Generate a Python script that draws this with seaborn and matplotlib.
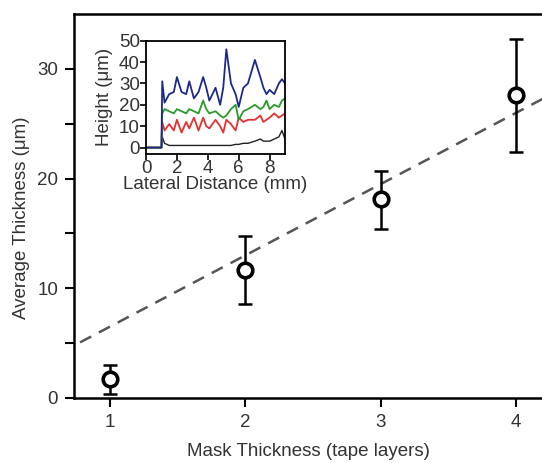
import numpy as np
import pandas as pd
import seaborn as sns
import matplotlib.pyplot as plt

# main data: average thickness vs mask thickness
layers = [1, 2, 3, 4]
thickness = [1.7, 11.7, 18.1, 27.6]
err_low = [1.35, 3.1, 2.7, 5.2]
err_high = [1.35, 3.05, 2.6, 5.1]
fit_slope = 6.5
fit_x = [0.78, 4.25]

# inset: height profiles (mm, um)
prof_x = [0.0, 1.0, 1.05, 1.2, 1.5, 1.8, 2.0, 2.3, 2.6, 2.8, 3.1, 3.4, 3.7, 3.9,
          4.1, 4.5, 4.8, 5.0, 5.2, 5.5, 5.8, 6.0, 6.3, 6.6, 7.05, 7.4, 7.6, 7.8,
          8.0, 8.3, 8.6, 8.8, 9.0]
blue = [0, 0, 31, 21, 25, 26, 33, 26, 25, 31, 23, 26, 33, 28,
        22, 28, 20, 28, 46, 30, 25, 19, 28, 30, 41, 33, 28, 25,
        27, 25, 30, 32, 30]
green = [0, 0, 16, 18, 17, 16, 18, 17, 16, 18, 17, 16, 22, 18,
         16, 17, 15, 14, 15, 18, 20, 13, 17, 18, 20, 18, 19, 22,
         18, 20, 19, 22, 23]
red = [0, 0, 12, 8, 11, 8, 13, 7, 12, 9, 14, 8, 14, 10,
       9, 13, 10, 7, 13, 11, 8, 14, 12, 13, 13, 15, 12, 13,
       14, 16, 14, 15, 16]
black = [0, 0, 5, 2, 1, 1, 1, 1, 1, 1, 1, 1, 1, 1,
         1, 1, 1, 1, 1, 1, 1.5, 1.5, 2, 2, 3, 4, 3, 3,
         3, 4, 5, 8, 4]

sns.set_theme(style="ticks")
plt.rcParams["font.family"] = ["Liberation Sans", "DejaVu Sans"]
plt.rcParams["text.color"] = "#333333"
plt.rcParams["axes.labelcolor"] = "#333333"
plt.rcParams["xtick.color"] = "black"
plt.rcParams["ytick.color"] = "black"
plt.rcParams["xtick.labelcolor"] = "#333333"
plt.rcParams["ytick.labelcolor"] = "#333333"

fs = 13.5
fig = plt.figure(figsize=(5.42, 4.63), dpi=100)
ax = fig.add_axes([0.1365, 0.1404, 0.8635, 0.8294])

df = pd.DataFrame({"layers": layers, "thickness": thickness})

# dashed fit line
fx = np.array(fit_x)
sns.lineplot(x=fx, y=fit_slope * fx, ax=ax, color="#555555", lw=1.8,
             linestyle=(0, (5, 3.5)), zorder=1)

ax.errorbar(layers, thickness, yerr=[err_low, err_high], fmt="none",
            ecolor="black", elinewidth=1.8, capsize=5, capthick=1.8, zorder=2)
sns.scatterplot(data=df, x="layers", y="thickness", ax=ax, s=110,
                facecolor="white", edgecolor="black", linewidth=2.6, zorder=3)

ax.set_xlim(0.735, 4.19)
ax.set_ylim(0, 35)
ax.set_xticks(layers)
ax.set_yticks([0, 10, 20, 30])
ax.set_yticks([5, 15, 25], minor=True)
ax.tick_params(axis="both", which="both", direction="out", length=6.5, width=1.5,
               labelsize=fs, pad=5)
for s in ["left", "bottom", "top"]:
    ax.spines[s].set_linewidth(1.8)
    ax.spines[s].set_color("black")
ax.spines["right"].set_visible(False)
ax.set_xlabel("Mask Thickness (tape layers)", fontsize=fs, labelpad=9)
ax.set_ylabel("Average Thickness (μm)", fontsize=fs)
ax.yaxis.set_label_coords(-0.094, 0.47)

# inset
ins = fig.add_axes([0.2694, 0.6674, 0.2565, 0.2447])
pdf = pd.DataFrame({"x": prof_x, "blue": blue, "green": green,
                    "red": red, "black": black})
for col, c, w in [("black", "#222222", 1.0), ("red", "#e53030", 1.3),
                  ("green", "#2a9a2a", 1.3), ("blue", "#1c2a8c", 1.3)]:
    sns.lineplot(data=pdf, x="x", y=col, ax=ins, color=c, lw=w)
ins.set_xlim(0, 9)
ins.set_ylim(-3, 50)
ins.set_xticks([0, 2, 4, 6, 8])
ins.set_yticks([0, 10, 20, 30, 40, 50])
ins.tick_params(axis="both", direction="out", length=4, width=1.2,
                labelsize=fs, pad=0.5)
for s in ins.spines.values():
    s.set_linewidth(1.3)
    s.set_color("black")
ins.set_xlabel("Lateral Distance (mm)", fontsize=fs, labelpad=-1)
ins.set_ylabel("Height (μm)", fontsize=fs, labelpad=4)

fig.savefig("out.png", dpi=100)
